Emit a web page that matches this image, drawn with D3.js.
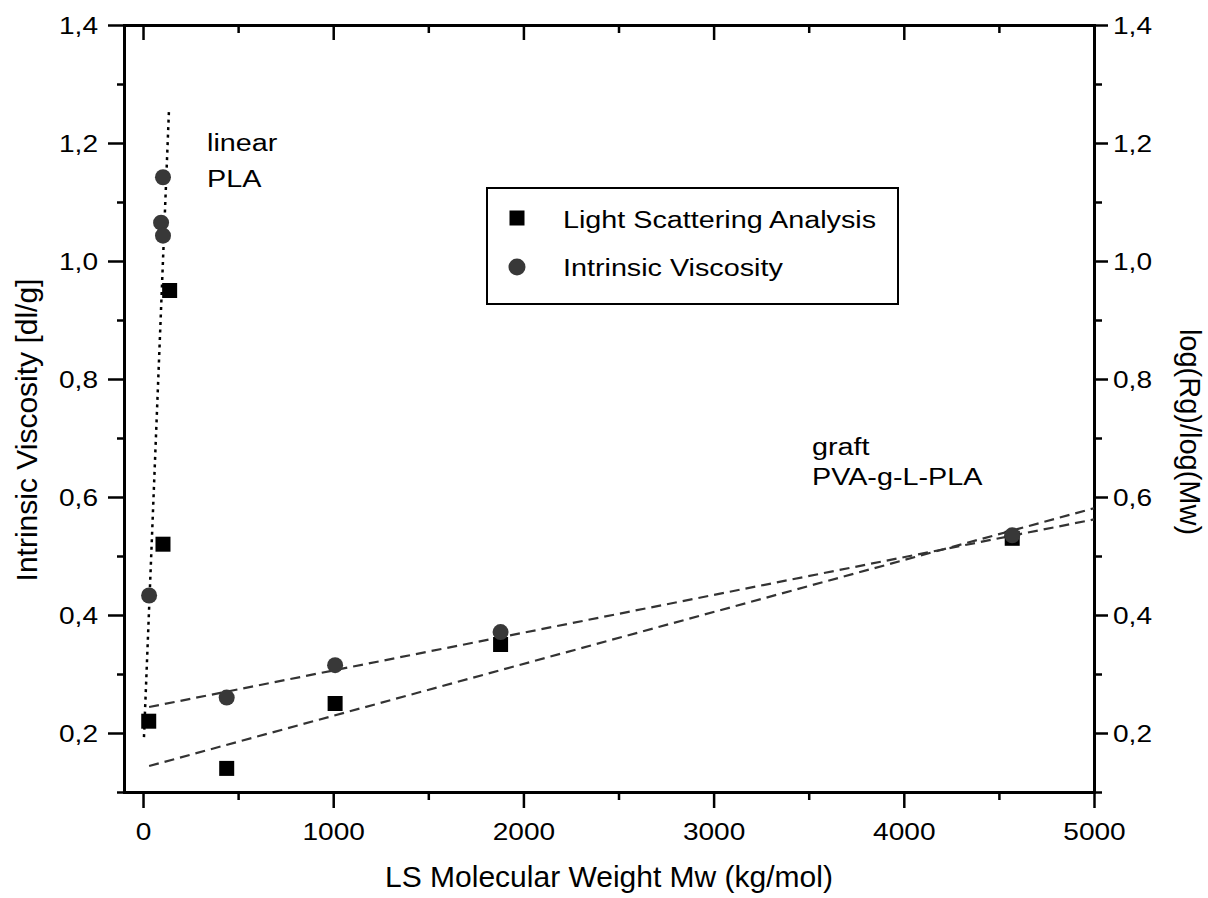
<!DOCTYPE html>
<html>
<head>
<meta charset="utf-8">
<script src="https://cdn.jsdelivr.net/npm/d3@7"></script>
<style>
  body { margin: 0; background: #fff; }
  text { font-family: "Liberation Sans", Arial, sans-serif; fill: #000; }
</style>
</head>
<body>
<div id="chart"></div>
<script>
// values
const lsMw = [30, 105, 140, 440, 1010, 1880, 4570];
const lsValue = [0.22, 0.52, 0.95, 0.14, 0.25, 0.35, 0.53];
const ivMw = [32, 95, 105, 105, 440, 1010, 1880, 4570];
const ivValue = [0.433, 1.065, 1.043, 1.142, 0.26, 0.315, 0.371, 0.535];

const linearFitMw = [5, 137];
const linearFitValue = [0.193, 1.26];
const graftIvFitMw = [32, 5000];
const graftIvFitValue = [0.244, 0.562];
const graftLsFitMw = [32, 5000];
const graftLsFitValue = [0.144, 0.581];

const xMajor = [0, 1000, 2000, 3000, 4000, 5000];
const xMinor = [500, 1500, 2500, 3500, 4500];
const yMajor = [0.2, 0.4, 0.6, 0.8, 1.0, 1.2, 1.4];
const yMinor = [0.1, 0.3, 0.5, 0.7, 0.9, 1.1, 1.3];

const seriesNames = ['Light Scattering Analysis', 'Intrinsic Viscosity'];

const width = 1208;
const height = 898;
const leftEdge = 124, rightEdge = 1094, topEdge = 25, bottomEdge = 792;
const wide = 'scale(1.25,1)';

const svg = d3.select('#chart').append('svg').attr('width', width).attr('height', height);

const x = d3.scaleLinear().domain([-100, 5000]).range([leftEdge, rightEdge]);
const y = d3.scaleLinear().domain([0.1, 1.4]).range([bottomEdge, topEdge]);
const comma = v => d3.format('.1f')(v).replace('.', ',');

function styleAxis(g) {
    g.select('.domain').attr('stroke-width', 3).attr('stroke-linecap', 'square');
    g.selectAll('.tick line').attr('stroke-width', 2.5);
    g.selectAll('text').attr('font-size', 24).attr('font-family', '"Liberation Sans", Arial, sans-serif');
}

// minor ticks first, no labels
svg.append('g').attr('transform', `translate(0,${bottomEdge})`)
    .call(d3.axisBottom(x).tickValues(xMinor).tickSize(8).tickSizeOuter(0).tickFormat('')).call(styleAxis);
svg.append('g').attr('transform', `translate(0,${topEdge})`)
    .call(d3.axisTop(x).tickValues(xMinor).tickSize(-8).tickSizeOuter(0).tickFormat('')).call(styleAxis);
svg.append('g').attr('transform', `translate(${leftEdge},0)`)
    .call(d3.axisLeft(y).tickValues(yMinor).tickSize(7).tickSizeOuter(0).tickFormat('')).call(styleAxis);
svg.append('g').attr('transform', `translate(${rightEdge},0)`)
    .call(d3.axisRight(y).tickValues(yMinor).tickSize(8).tickSizeOuter(0).tickFormat('')).call(styleAxis);

// major ticks
svg.append('g').attr('transform', `translate(0,${topEdge})`)
    .call(d3.axisTop(x).tickValues(xMajor).tickSize(-15).tickSizeOuter(0).tickFormat('')).call(styleAxis);

const xAxis = svg.append('g').attr('transform', `translate(0,${bottomEdge})`)
    .call(d3.axisBottom(x).tickValues(xMajor).tickSize(16).tickSizeOuter(0).tickFormat(d3.format('d'))).call(styleAxis);
xAxis.selectAll('text').attr('y', 48).attr('dy', 0).attr('transform', 'scale(1.17,1)');

const yAxisL = svg.append('g').attr('transform', `translate(${leftEdge},0)`)
    .call(d3.axisLeft(y).tickValues(yMajor).tickSize(16).tickSizeOuter(0).tickFormat(comma)).call(styleAxis);
yAxisL.selectAll('text').attr('x', -26 / 1.17).attr('dy', '0.37em').attr('transform', 'scale(1.17,1)');

const yAxisR = svg.append('g').attr('transform', `translate(${rightEdge},0)`)
    .call(d3.axisRight(y).tickValues(yMajor).tickSize(14).tickSizeOuter(0).tickFormat(comma)).call(styleAxis);
yAxisR.selectAll('text').attr('x', 19 / 1.17).attr('dy', '0.37em').attr('transform', 'scale(1.17,1)');

// axis titles
svg.append('text').attr('x', (leftEdge + rightEdge) / 2).attr('y', 887).attr('text-anchor', 'middle')
    .attr('font-size', 30).text('LS Molecular Weight Mw (kg/mol)');
svg.append('text').attr('transform', 'translate(37,430) rotate(-90)').attr('text-anchor', 'middle')
    .attr('font-size', 30).text('Intrinsic Viscosity [dl/g]');
svg.append('text').attr('transform', 'translate(1180,432) rotate(90)').attr('text-anchor', 'middle')
    .attr('font-size', 29).text('log(Rg)/log(Mw)');

// fit lines
const line = d3.line().x(d => x(d[0])).y(d => y(d[1]));
svg.append('path').attr('d', line(d3.zip(linearFitMw, linearFitValue)))
    .attr('fill', 'none').attr('stroke', '#000').attr('stroke-width', 2.5).attr('stroke-dasharray', '3,4.5');
svg.append('path').attr('d', line(d3.zip(graftIvFitMw, graftIvFitValue)))
    .attr('fill', 'none').attr('stroke', '#333').attr('stroke-width', 2.2).attr('stroke-dasharray', '10,6');
svg.append('path').attr('d', line(d3.zip(graftLsFitMw, graftLsFitValue)))
    .attr('fill', 'none').attr('stroke', '#333').attr('stroke-width', 2.2).attr('stroke-dasharray', '10,6');

// points
const sq = 15;
svg.append('g').selectAll('rect').data(d3.zip(lsMw, lsValue)).join('rect')
    .attr('x', d => x(d[0]) - sq / 2).attr('y', d => y(d[1]) - sq / 2)
    .attr('width', sq).attr('height', sq).attr('fill', '#000');
svg.append('g').selectAll('circle').data(d3.zip(ivMw, ivValue)).join('circle')
    .attr('cx', d => x(d[0])).attr('cy', d => y(d[1])).attr('r', 8).attr('fill', '#383838');

// annotations
function note(tx, ty, str) {
    svg.append('text').attr('transform', `translate(${tx},${ty}) ${wide}`).attr('font-size', 23).text(str);
}
note(207, 151, 'linear');
note(207, 187, 'PLA');
note(812, 455, 'graft');
note(812, 485, 'PVA-g-L-PLA');

// legend
const legend = svg.append('g');
legend.append('rect').attr('x', 487).attr('y', 188).attr('width', 411).attr('height', 116)
    .attr('fill', '#fff').attr('stroke', '#000').attr('stroke-width', 2);
legend.append('rect').attr('x', 517 - sq / 2).attr('y', 218 - sq / 2).attr('width', sq).attr('height', sq).attr('fill', '#000');
legend.append('circle').attr('cx', 517).attr('cy', 267).attr('r', 8.5).attr('fill', '#383838');
seriesNames.forEach((name, i) => {
    legend.append('text').attr('transform', `translate(563,${228 + i * 48}) ${wide}`)
        .attr('font-size', 23).text(name);
});
</script>
</body>
</html>
